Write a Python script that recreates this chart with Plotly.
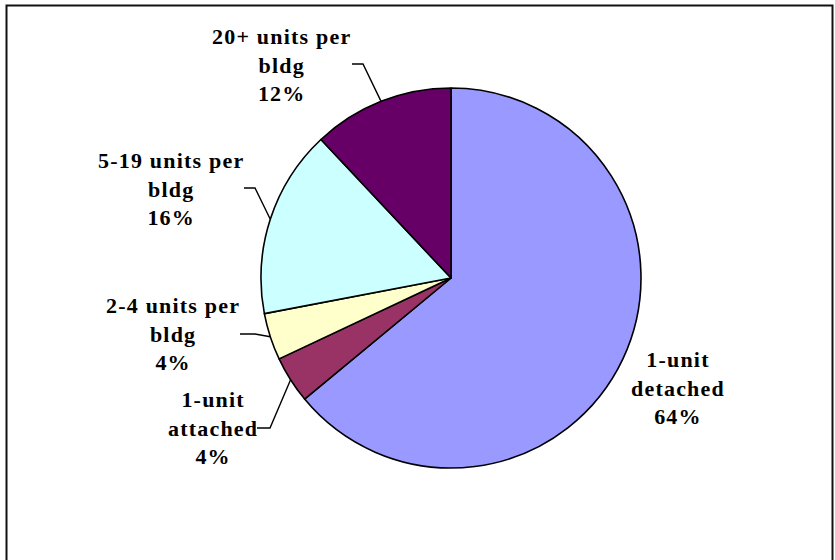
import math
import plotly.graph_objects as go

# ---- data ----
categories = ["1-unit detached", "1-unit attached", "2-4 units per bldg",
              "5-19 units per bldg", "20+ units per bldg"]
values = [64, 4, 4, 16, 12]
label_lines = [["1-unit", "detached", "64%"], ["1-unit", "attached", "4%"],
               ["2-4 units per", "bldg", "4%"], ["5-19 units per", "bldg", "16%"],
               ["20+ units per", "bldg", "12%"]]
colors = ["#9999FF", "#993366", "#FFFFCC", "#CCFFFF", "#660066"]

# ---- layout constants (pixels) ----
W, H = 835, 560
CX, CY, R = 451, 278, 190
# label centre (x, middle line y) and leader dash (start x, end x, y); None = no leader
label_pos = [(678, 388), (213, 428), (173, 334), (171, 189), (281, 65)]
leader = [None, (270, 257, 428), (255, 240, 334), (255, 244, 188), (363, 352, 64)]

FONT = dict(family="Liberation Serif, Times New Roman, serif", size=22, color="#000000",
            weight="bold")


def px(x):
    return x / W


def py(y):
    return 1 - y / H


def spaced(lines):
    return "<br>".join(f'<span style="letter-spacing:1.2px">{s}</span>' for s in lines)


fig = go.Figure(go.Pie(
    labels=categories, values=values, sort=False, direction="clockwise",
    rotation=0, textinfo="none", hoverinfo="label+percent",
    marker=dict(colors=colors, line=dict(color="#000000", width=1.6)),
    domain=dict(x=[px(CX - R), px(CX + R)], y=[py(CY + R), py(CY - R)]),
    showlegend=False,
))

annotations = []
shapes = []
total = sum(values)
cum = 0
for i, v in enumerate(values):
    mid = (cum + v / 2) / total * 2 * math.pi  # clockwise from 12 o'clock
    cum += v
    ex = CX + R * math.sin(mid)
    ey = CY - R * math.cos(mid)
    lx, ly = label_pos[i]
    annotations.append(dict(x=px(lx), y=py(ly), xref="paper", yref="paper",
                            text=spaced(label_lines[i]), showarrow=False, font=FONT,
                            align="center", xanchor="center", yanchor="middle"))
    if leader[i] is not None:
        x0, x1, yl = leader[i]
        shapes.append(dict(type="path", xref="paper", yref="paper",
                           path=f"M {px(x1)},{py(yl)} L {px(x0)},{py(yl)} L {px(ex)},{py(ey)}",
                           line=dict(color="#000000", width=1.4)))

# outer frame (bottom edge lies below the visible area)
shapes.append(dict(type="path", xref="paper", yref="paper",
                   path=f"M {px(6.5)},{py(575)} L {px(6.5)},{py(5.5)} L {px(832.5)},{py(5.5)} L {px(832.5)},{py(575)}",
                   line=dict(color="#111111", width=2)))

fig.update_layout(
    width=W, height=H, margin=dict(l=0, r=0, t=0, b=0),
    paper_bgcolor="#FFFFFF", plot_bgcolor="#FFFFFF",
    annotations=annotations, shapes=shapes, showlegend=False,
)

fig.write_html("out.html")
